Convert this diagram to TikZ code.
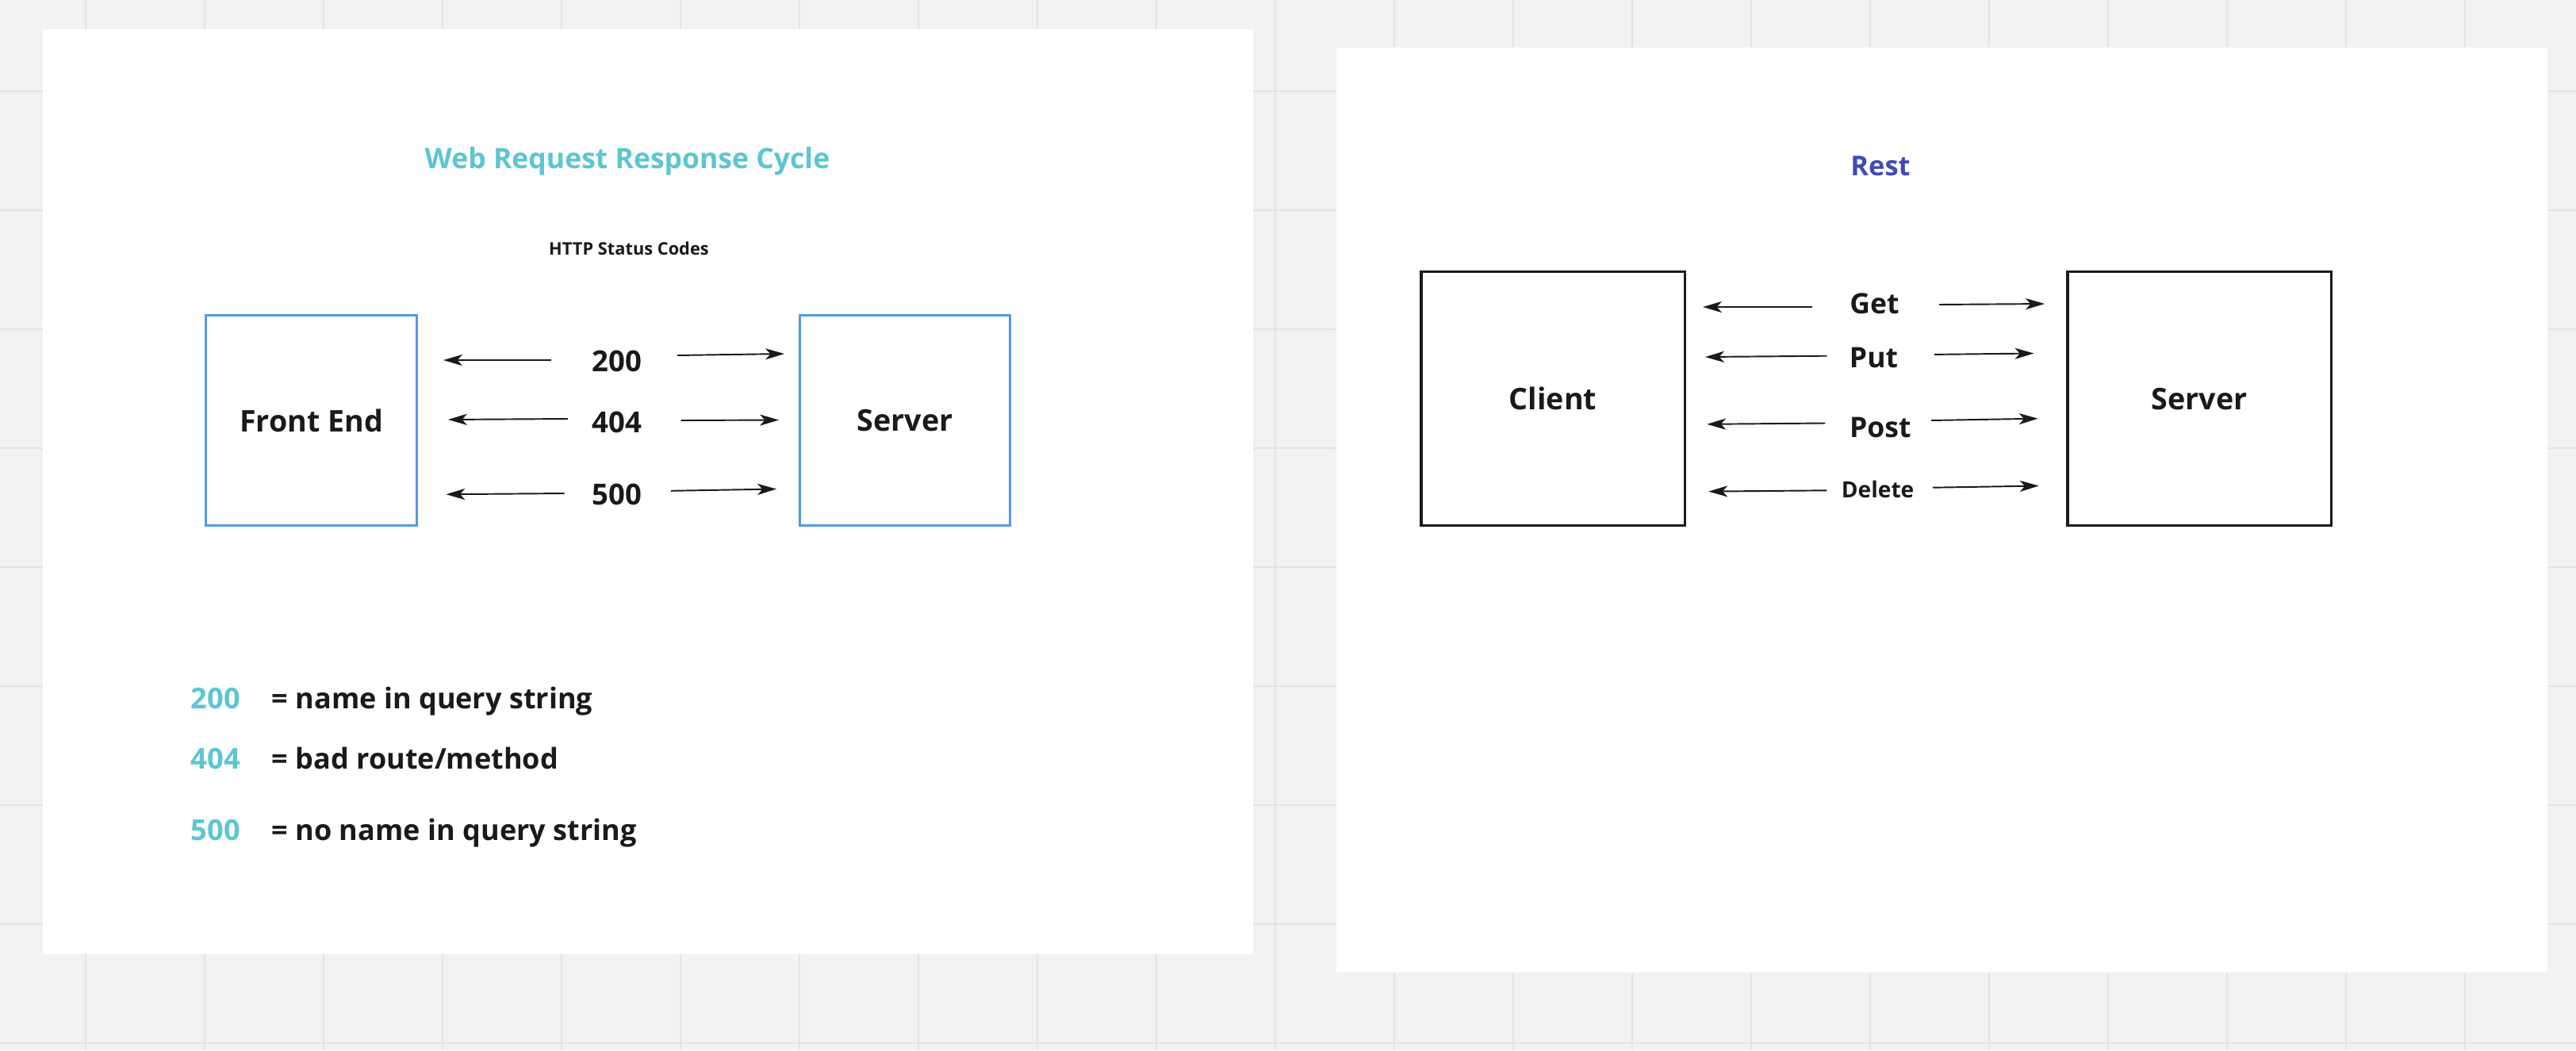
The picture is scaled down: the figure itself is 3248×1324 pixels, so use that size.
\documentclass[tikz,border=0pt]{standalone}
\usepackage{fontspec}
\setmainfont{Open Sans}
\usetikzlibrary{arrows.meta}

\definecolor{canvas}{HTML}{F2F2F2}
\definecolor{gridline}{HTML}{E4E4E4}
\definecolor{titlecyan}{HTML}{5CC6D2}
\definecolor{restblue}{HTML}{414BB2}
\definecolor{boxblue}{HTML}{5499E8}
\definecolor{ink}{HTML}{1A1A1A}

\newcommand{\fsz}[1]{\fontsize{#1}{#1}\selectfont\bfseries}

\tikzset{
  panel/.style={fill=white, draw=none},
  bluebox/.style={draw=boxblue, line width=0.85pt, fill=white, inner sep=0pt,
    minimum width=2.65cm, minimum height=2.65cm, text=ink, font=\fsz{10.7pt}},
  blackbox/.style={draw=ink, line width=0.9pt, fill=white, inner sep=0pt,
    minimum width=3.32cm, minimum height=3.2cm, text=ink, font=\fsz{10.7pt}},
  code/.style={text=ink, font=\fsz{10.4pt}, inner sep=0pt, anchor=base},
  verb/.style={text=ink, font=\fsz{10.1pt}, inner sep=0pt, anchor=base},
  legendnum/.style={text=titlecyan, font=\fsz{10.3pt}, inner sep=0pt, anchor=base west},
  legendtxt/.style={text=ink, font=\fsz{10.25pt}, inner sep=0pt, anchor=base west},
  flow/.style={draw=ink, line width=0.55pt,
    -{Stealth[length=6.8pt, width=4pt, inset=1.8pt]}},
}

\begin{document}
\begin{tikzpicture}[x=0.01cm, y=-0.01cm]
  \useasboundingbox (0,0) rectangle (3248,1324);

  % board background with its grid
  \fill[canvas] (0,0) rectangle (3248,1324);
  \foreach \k in {0,...,20}
    \draw[gridline, line width=0.5pt] ({107.7+150*\k},0) -- ({107.7+150*\k},1324);
  \foreach \k in {0,...,8}
    \draw[gridline, line width=0.5pt] (0,{114.7+150*\k}) -- (3248,{114.7+150*\k});

  % the two frames
  \fill[panel] (54,37) rectangle (1580,1203);
  \fill[panel] (1685,60) rectangle (3212,1226);

  % ---------- Web request / response cycle ----------
  \node[text=titlecyan, font=\fsz{10.1pt}, inner sep=0pt, anchor=base] (title) at (791,212)
    {Web Request Response Cycle};
  \node[text=ink, font=\fsz{6.2pt}, inner sep=0pt, anchor=base] (sub) at (793,321)
    {HTTP Status Codes};

  \node[bluebox] (front) at (392.5,530.2) {Front End};
  \node[bluebox] (server) at (1141,530.2) {Server};

  \node[code] (c200) at (778,468.8) {200};
  \node[code] (c404) at (778,545.5) {404};
  \node[code] (c500) at (778,636) {500};

  \coordinate (a1s) at (695,454);   \coordinate (a1e) at (559,454);
  \coordinate (b1s) at (854,448);   \coordinate (b1e) at (989,446);
  \coordinate (a2s) at (716,528);   \coordinate (a2e) at (565,529);
  \coordinate (b2s) at (858.6,530); \coordinate (b2e) at (982,529.5);
  \coordinate (a3s) at (711.5,622); \coordinate (a3e) at (562.4,623.2);
  \coordinate (b3s) at (846,618.8); \coordinate (b3e) at (979,616.5);
  \draw[flow] (a1s) -- (a1e);
  \draw[flow] (b1s) -- (b1e);
  \draw[flow] (a2s) -- (a2e);
  \draw[flow] (b2s) -- (b2e);
  \draw[flow] (a3s) -- (a3e);
  \draw[flow] (b3s) -- (b3e);

  % legend of the status codes
  \node[legendnum] (l200) at (240,893) {200};
  \node[legendtxt] (t200) at (342,893) {= name in query string};
  \node[legendnum] (l404) at (240,969.4) {404};
  \node[legendtxt] (t404) at (342,969.4) {= bad route/method};
  \node[legendnum] (l500) at (240,1059.3) {500};
  \node[legendtxt] (t500) at (342,1059.3) {= no name in query string};

  % ---------- REST ----------
  \node[text=restblue, font=\fsz{9.8pt}, inner sep=0pt, anchor=base] (rest) at (2371,221) {Rest};

  \node[blackbox] (client) at (1958,502.7) {Client};
  \node[blackbox] (server2) at (2773,502.7) {Server};

  \node[verb] (get) at (2363.5,395) {Get};
  \node[verb] (put) at (2362.5,463.4) {Put};
  \node[verb] (post) at (2370.8,551.3) {Post};
  \node[verb, font=\fsz{8pt}] (delete) at (2367.6,627) {Delete};

  \coordinate (g1s) at (2285,387);     \coordinate (g1e) at (2147,387);
  \coordinate (g2s) at (2445,384);     \coordinate (g2e) at (2578,383);
  \coordinate (p1s) at (2303.4,448.7); \coordinate (p1e) at (2150,450);
  \coordinate (p2s) at (2439,446.9);   \coordinate (p2e) at (2564.4,445.5);
  \coordinate (o1s) at (2301.4,533.5); \coordinate (o1e) at (2152.2,534.8);
  \coordinate (o2s) at (2435,530);     \coordinate (o2e) at (2569.6,527.7);
  \coordinate (d1s) at (2303.4,618.3); \coordinate (d1e) at (2154.3,619.6);
  \coordinate (d2s) at (2437,614.7);   \coordinate (d2e) at (2570.7,612.5);
  \draw[flow] (g1s) -- (g1e);
  \draw[flow] (g2s) -- (g2e);
  \draw[flow] (p1s) -- (p1e);
  \draw[flow] (p2s) -- (p2e);
  \draw[flow] (o1s) -- (o1e);
  \draw[flow] (o2s) -- (o2e);
  \draw[flow] (d1s) -- (d1e);
  \draw[flow] (d2s) -- (d2e);
\end{tikzpicture}
\end{document}
